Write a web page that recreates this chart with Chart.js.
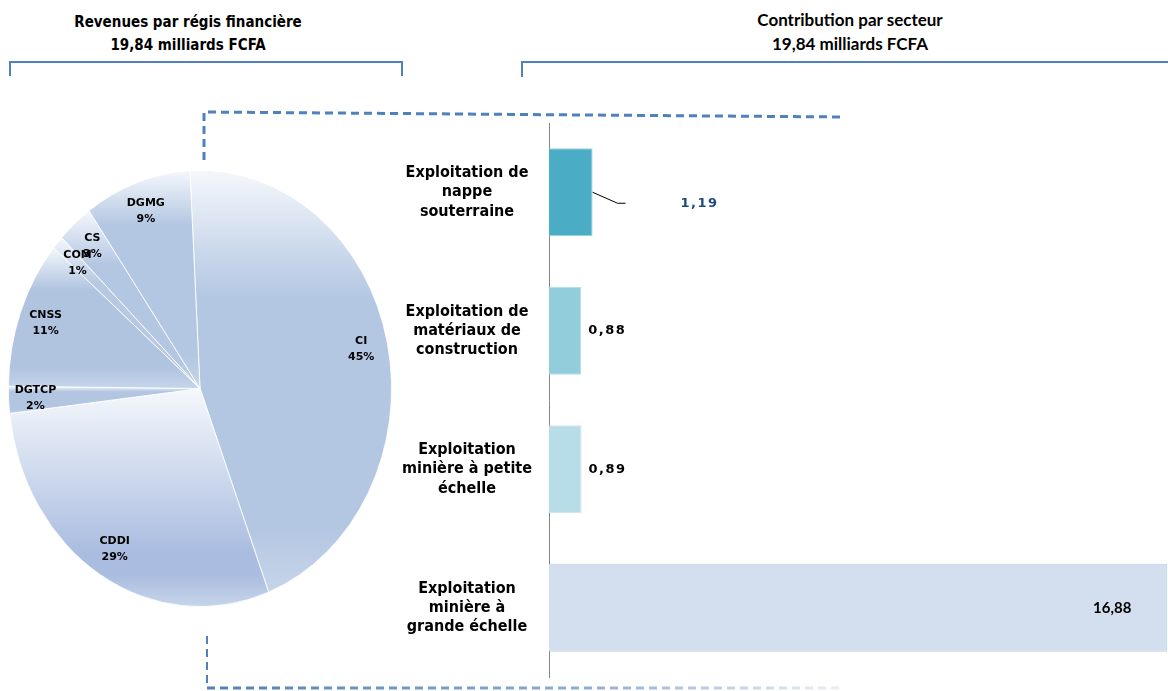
<!DOCTYPE html>
<html>
<head>
<meta charset="utf-8">
<script src="https://cdn.jsdelivr.net/npm/chart.js@4"></script>
<style>
  body { margin: 0; width: 1168px; height: 691px; overflow: hidden; background: #fff; position: relative;
         font-family: "DejaVu Sans Condensed", "DejaVu Sans", sans-serif; }
  .titre { position: absolute; text-align: center; font-weight: bold; color: #000; }
  #t1 { left: -12px; width: 400px; top: 11px; font-size: 15px; line-height: 23px; }
  #t2 { left: 650px; width: 400px; top: 8px; font-family: Lato, sans-serif; font-size: 17px; line-height: 24px; }
  .acc { position: absolute; border: 2px solid #4f81bd; border-bottom: none; }
  #a1 { left: 9px; top: 61px; width: 390px; height: 13px; }
  #a2 { left: 521px; top: 61px; width: 680px; height: 14px; }
  #pie { position: absolute; left: 8px; top: 170px; }
  #bar { position: absolute; left: 380px; top: 100px; }
  svg { position: absolute; left: 0; top: 0; pointer-events: none; }
</style>
</head>
<body>
<div class="titre" id="t1">Revenues par régis financière<br>19,84 milliards FCFA</div>
<div class="titre" id="t2">Contribution par secteur<br>19,84 milliards FCFA</div>
<div class="acc" id="a1"></div>
<div class="acc" id="a2"></div>

<canvas id="pie" width="384" height="437"></canvas>
<canvas id="bar" width="788" height="591"></canvas>

<svg width="1168" height="691">
  <defs>
    <linearGradient id="fondu" x1="207" y1="0" x2="840" y2="0" gradientUnits="userSpaceOnUse">
      <stop offset="0" stop-color="#4f81bd"/>
      <stop offset="0.6" stop-color="#8eaed6"/>
      <stop offset="1" stop-color="#e8eef7"/>
    </linearGradient>
  </defs>
  <path d="M204,160 L204,112 L843,117" fill="none" stroke="#4f81bd" stroke-width="3" stroke-dasharray="8 5"/>
  <path d="M207,636 L207,686" fill="none" stroke="#4f81bd" stroke-width="2" stroke-dasharray="8 5"/>
  <path d="M207,688 L840,688" fill="none" stroke="url(#fondu)" stroke-width="3" stroke-dasharray="8 5"/>
</svg>

<script>
// Données : répartition par régie (en %)
var regies = ['CI', 'CDDI', 'DGTCP', 'CNSS', 'COM', 'CS', 'DGMG'];
var partRegies = [45, 29, 2, 11, 1, 3, 9];

// Données : contribution par secteur (milliards FCFA)
var secteurs = [
  ['Exploitation de', 'nappe', 'souterraine'],
  ['Exploitation de', 'matériaux de', 'construction'],
  ['Exploitation', 'minière à petite', 'échelle'],
  ['Exploitation', 'minière à', 'grande échelle']
];
var contributions = [1.19, 0.88, 0.89, 16.88];

// Styles
var couleursRegies = ['#b4c7e2', '#aabde0', '#b2c5e1', '#b0c4e0', '#b6c8e2', '#b4c7e2', '#b4c7e2'];
var posCouleur = [0.3, 0.75, 0.2, 0.3, 0.3, 0.3, 0.25];
var couleursBarres = ['#4bacc6', '#92cddc', '#b7dde8', '#d3dfee'];
var bordsBarres = ['#9fd2e0', '#b2dbe6', '#cde8ef', '#b9cde5'];
var ETIRE = 436 / 383; // camembert légèrement ovale
var ROTATION = -3;

function virgule(v) {
  return v.toFixed(2).replace('.', ',');
}

// Dégradé vertical pour chaque part
function degradePart(ctx) {
  var chart = ctx.chart, zone = chart.chartArea;
  var i = ctx.dataIndex;
  if (!zone) return couleursRegies[i];
  var cx = (zone.left + zone.right) / 2, cy = (zone.top + zone.bottom) / 2;
  var r = Math.min(zone.width, zone.height) / 2;
  var total = partRegies.reduce(function (a, b) { return a + b; }, 0);
  var avant = 0;
  for (var k = 0; k < i; k++) avant += partRegies[k];
  var debut = ROTATION + avant * 360 / total;
  var fin = debut + partRegies[i] * 360 / total;
  var ys = [cy, cy - r * Math.cos(debut * Math.PI / 180), cy - r * Math.cos(fin * Math.PI / 180)];
  for (var a = Math.ceil(debut / 90) * 90; a <= fin; a += 90) {
    ys.push(cy - r * Math.cos(a * Math.PI / 180));
  }
  var haut = Math.min.apply(null, ys), bas = Math.max.apply(null, ys);
  if (bas - haut < 2) bas = haut + 2;
  var g = chart.ctx.createLinearGradient(0, haut, 0, bas);
  g.addColorStop(0, '#f5f8fc');
  g.addColorStop(posCouleur[i], couleursRegies[i]);
  g.addColorStop(0.85, couleursRegies[i]);
  g.addColorStop(1, '#c6d5e9');
  return g;
}

// Ovale + étiquettes du camembert
var pluginOvale = {
  id: 'ovale',
  beforeDatasetsDraw: function (chart) {
    var z = chart.chartArea, c = chart.ctx;
    var cy = (z.top + z.bottom) / 2;
    c.save();
    c.translate(0, cy);
    c.scale(1, ETIRE);
    c.translate(0, -cy);
  },
  afterDatasetsDraw: function (chart) {
    var c = chart.ctx;
    c.restore();
    var meta = chart.getDatasetMeta(0);
    c.save();
    c.font = 'bold 11px "DejaVu Sans", sans-serif';
    c.fillStyle = '#000';
    c.textAlign = 'center';
    c.textBaseline = 'middle';
    meta.data.forEach(function (arc, i) {
      var milieu = (arc.startAngle + arc.endAngle) / 2;
      var rr = arc.outerRadius * 0.86;
      var x = arc.x + Math.cos(milieu) * rr;
      var y = arc.y + Math.sin(milieu) * rr * ETIRE;
      c.fillText(regies[i], x, y - 8);
      c.fillText(partRegies[i] + '%', x, y + 8);
    });
    c.restore();
  }
};

new Chart(document.getElementById('pie').getContext('2d'), {
  type: 'pie',
  data: {
    labels: regies,
    datasets: [{
      data: partRegies,
      backgroundColor: degradePart,
      borderColor: '#ffffff',
      borderWidth: 0.8,
      hoverOffset: 0
    }]
  },
  options: {
    responsive: false,
    animation: false,
    rotation: ROTATION,
    layout: { padding: 0 },
    plugins: { legend: { display: false }, tooltip: { enabled: false } }
  },
  plugins: [pluginOvale]
});

// Valeurs à côté des barres
var pluginValeurs = {
  id: 'valeurs',
  afterDatasetsDraw: function (chart) {
    var c = chart.ctx;
    var meta = chart.getDatasetMeta(0);
    c.save();
    c.textAlign = 'center';
    c.textBaseline = 'middle';
    meta.data.forEach(function (barre, i) {
      var x = barre.x, y = barre.y;
      var texte = virgule(contributions[i]);
      c.font = 'bold 13px "DejaVu Sans", sans-serif';
      c.letterSpacing = '1.5px';
      if (i === 0) {
        // étiquette déplacée avec trait de rappel
        c.strokeStyle = '#000';
        c.lineWidth = 1;
        c.beginPath();
        c.moveTo(x, y);
        c.lineTo(x + 25, y + 11);
        c.lineTo(x + 33, y + 11);
        c.stroke();
        c.fillStyle = '#1f497d';
        c.fillText(texte, x + 107, y + 11);
      } else if (i === 3) {
        c.font = 'bold 15px Lato, sans-serif';
        c.letterSpacing = '0px';
        c.fillStyle = '#000';
        c.fillText(texte, x - 55, y);
      } else {
        c.fillStyle = '#000';
        c.fillText(texte, x + 26, y);
      }
    });
    c.restore();
  }
};

new Chart(document.getElementById('bar').getContext('2d'), {
  type: 'bar',
  data: {
    labels: secteurs,
    datasets: [{
      data: contributions,
      backgroundColor: couleursBarres,
      borderColor: bordsBarres,
      borderWidth: 1,
      categoryPercentage: 1,
      barPercentage: 0.635
    }]
  },
  options: {
    indexAxis: 'y',
    responsive: false,
    animation: false,
    layout: { padding: { top: 23, bottom: 14, left: 0, right: 0 } },
    plugins: { legend: { display: false }, tooltip: { enabled: false } },
    scales: {
      x: { display: false, min: 0, max: 16.9 },
      y: {
        grid: { display: false, drawTicks: false },
        border: { display: true, color: '#868686', width: 1 },
        afterFit: function (s) {
          s.width = 169;
          s.paddingTop = 0;
          s.paddingBottom = 0;
        },
        ticks: {
          color: '#000',
          padding: 17,
          crossAlign: 'center',
          font: { family: '"DejaVu Sans Condensed", "DejaVu Sans", sans-serif', size: 16, weight: 'bold' },
          lineHeight: 1.45
        }
      }
    }
  },
  plugins: [pluginValeurs]
});
</script>
</body>
</html>
